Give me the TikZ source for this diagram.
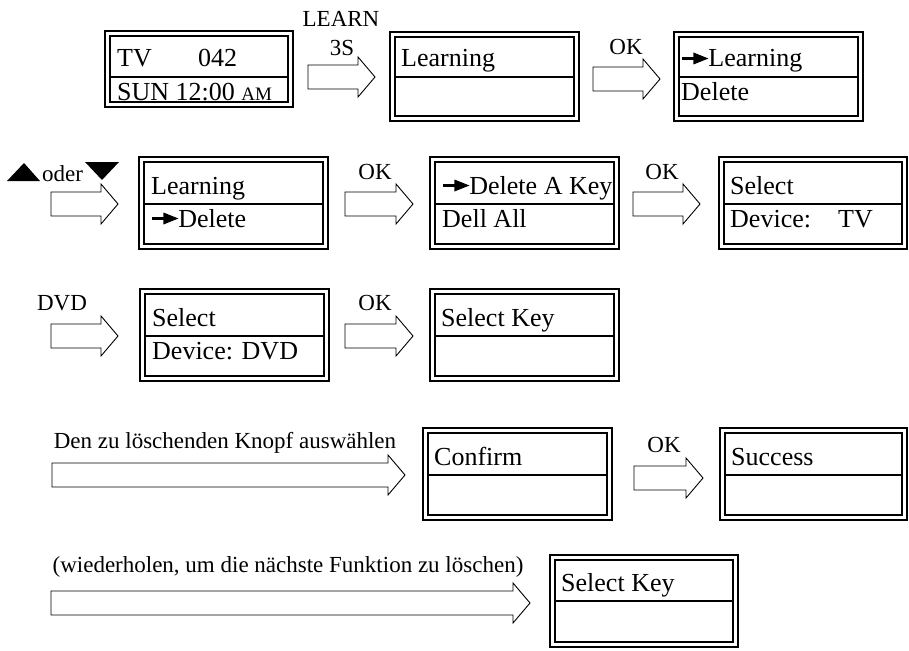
\documentclass[tikz,border=0pt]{standalone}
\usepackage{fontspec}
\setmainfont{Liberation Serif}
\usetikzlibrary{calc}
\newcommand{\ptr}{\tikz[baseline=0pt,x=1pt,y=1pt]{\draw[line width=2.4pt] (0,8.5)--(14,8.5); \fill (11,2.5)--(26,8.5)--(11,14.5)--cycle;}}
\tikzset{
  lcdouter/.style={draw=black, line width=1.5pt},
  lcdinner/.style={draw=black, line width=2pt},
  lcdtext/.style={anchor=base west, inner sep=0pt, font=\fontsize{26}{26}\selectfont},
  lbl/.style={inner sep=0pt, font=\fontsize{23}{23}\selectfont},
  blockarrow/.style={draw=black, line width=0.9pt, fill=white, line join=miter},
}
% name x1 y1 x2 y2 ydiv text1 text2 textoffset
\newcommand{\lcd}[9]{%
  \draw[lcdouter] (#2,#3) rectangle (#4,#5);
  \draw[lcdinner] (#2+5,#3+5) rectangle (#4-5,#5-5);
  \draw[lcdinner] (#2+5,#6) -- (#4-5,#6);
  \node[lcdtext] (#1a) at (#2+#9,#6-10) {#7};
  \node[lcdtext] (#1b) at (#2+#9,#6+23) {#8};
}
% name x1 x2 yc
\newcommand{\barrow}[4]{%
  \draw[blockarrow] (#2,#4-12) -- (#3-17,#4-12) -- (#3-17,#4-20) -- (#3,#4)
     -- (#3-17,#4+20) -- (#3-17,#4+12) -- (#2,#4+12) -- cycle;
  \coordinate (#1s) at (#2,#4);
  \coordinate (#1e) at (#3,#4);
}
\begin{document}
\begin{tikzpicture}[x=1pt,y=-1pt]
\useasboundingbox (0,0) rectangle (909,650);
% Row 1
\lcd{b1}{105}{31}{293}{107}{77}{\makebox[81pt][l]{TV}042}{SUN 12:00 {\fontsize{19}{19}\selectfont AM}}{12}
\barrow{a1}{308}{375}{77}
\node[lbl] (l1) at (341,19) {LEARN};
\node[lbl] (l1b) at (342,48) {3S};
\lcd{b2}{390}{32}{579}{121}{77}{Learning}{}{11}
\barrow{a2}{593}{660}{79}
\node[lbl] (l2) at (626,47) {OK};
\lcd{b3}{674}{32}{863}{121}{77}{\ptr Learning}{Delete}{7}
% Row 2
\fill (7,181) -- (40,181) -- (24,163) -- cycle;
\node[lbl, anchor=base west] (oder) at (42,181) {oder};
\fill (85,162) -- (119,162) -- (102,180) -- cycle;
\barrow{a3}{51}{118}{204}
\lcd{b4}{139}{157}{328}{249}{204}{Learning}{\ptr Delete}{12}
\barrow{a4}{345}{413}{204}
\node[lbl] (l4) at (375,172) {OK};
\lcd{b5}{430}{157}{619}{249}{204}{\ptr Delete A Key}{Dell All}{12}
\barrow{a5}{633}{700}{204}
\node[lbl] (l5) at (662,172) {OK};
\lcd{b6}{719}{157}{907}{249}{204}{Select}{\makebox[108pt][l]{Device:}TV}{11}
% Row 3
\node[lbl] (dvd) at (62,303) {DVD};
\barrow{a6}{51}{118}{336}
\lcd{b7}{140}{289}{329}{381}{336}{Select}{Device: DVD}{12}
\barrow{a7}{345}{413}{336}
\node[lbl] (l7) at (375,303) {OK};
\lcd{b8}{430}{289}{619}{381}{336}{Select Key}{}{11}
% Row 4
\node[lbl] (t4) at (225,443) {Den zu löschenden Knopf auswählen};
\barrow{a8}{52}{405}{475}
\lcd{b9}{423}{428}{612}{520}{475}{Confirm}{}{11}
\barrow{a9}{634}{703}{478}
\node[lbl] (l9) at (664,445) {OK};
\lcd{b10}{720}{428}{907}{520}{475}{Success}{}{11}
% Row 5
\node[lbl] (t5) at (288,567) {(wiederholen, um die nächste Funktion zu löschen)};
\barrow{a10}{51}{530}{603}
\lcd{b11}{550}{555}{738}{647}{601}{Select Key}{}{11}
\end{tikzpicture}
\end{document}
